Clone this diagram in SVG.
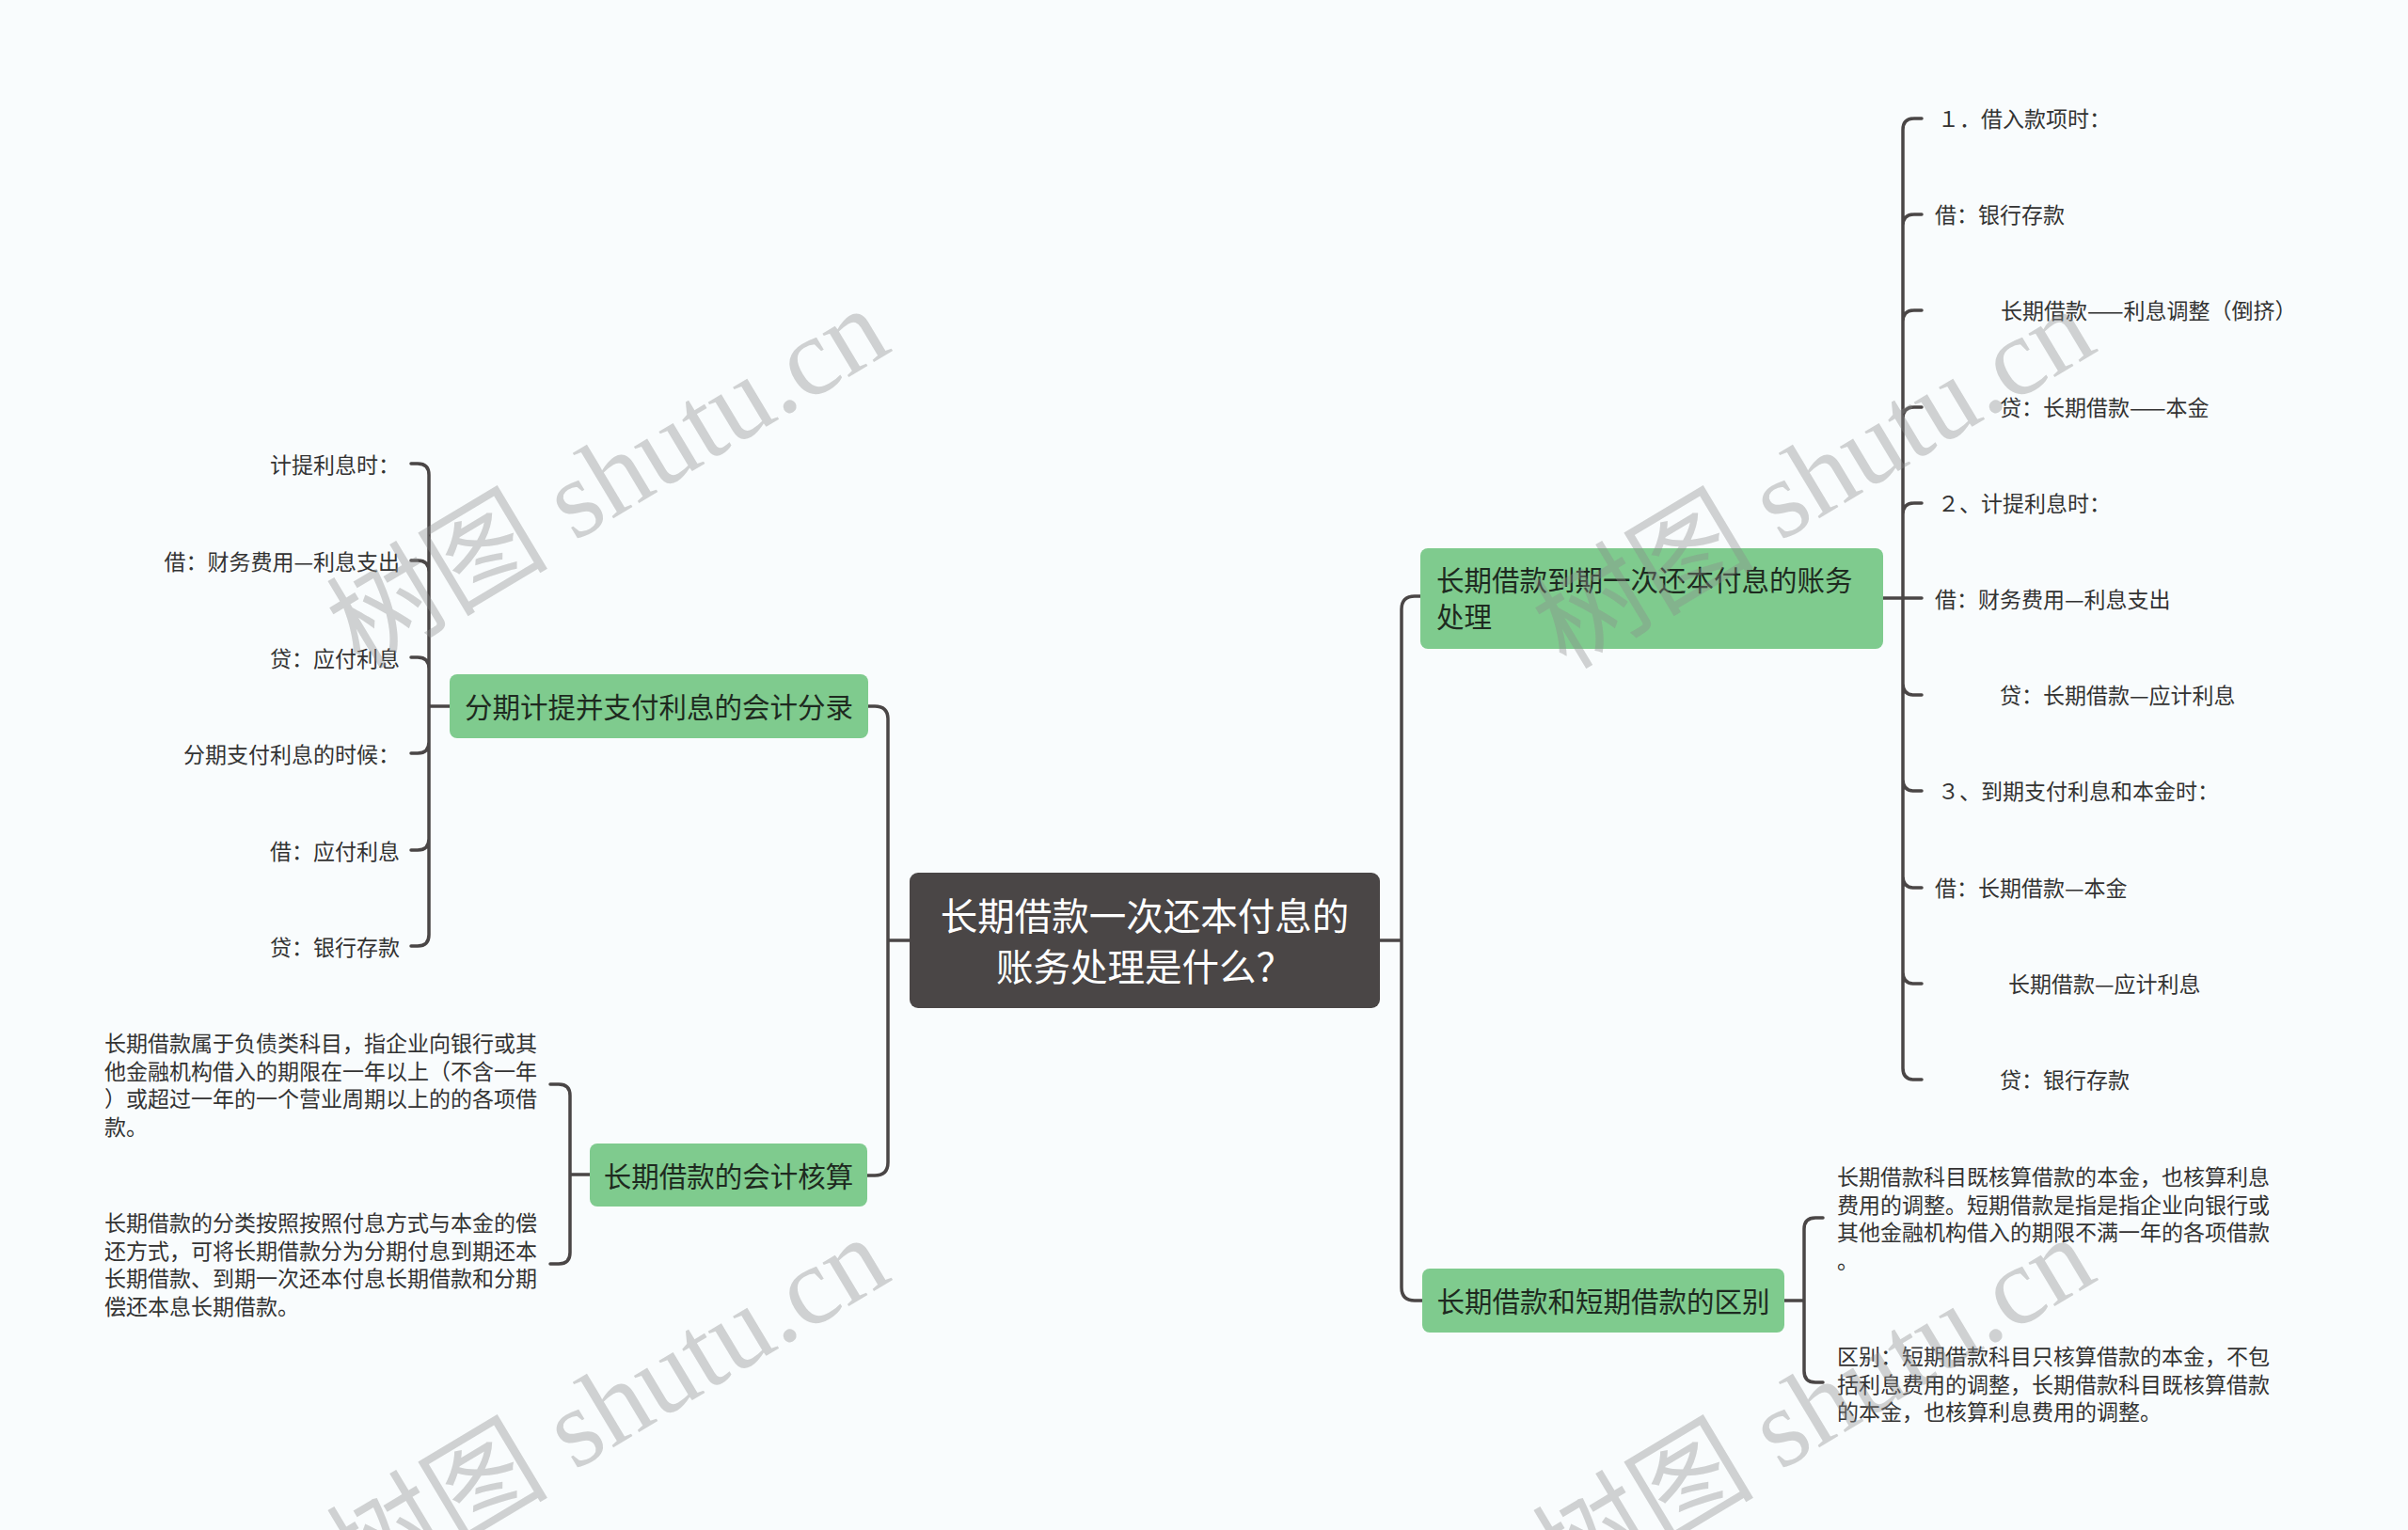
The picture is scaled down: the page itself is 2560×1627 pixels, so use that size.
<svg xmlns="http://www.w3.org/2000/svg" width="2560" height="1627" viewBox="0 0 2560 1627">
<style>
text{font-family:"Noto Sans CJK SC","Noto Sans",sans-serif;dominant-baseline:central}
.con{fill:none;stroke:#4a4646;stroke-width:3.5;stroke-linecap:round}
.root{fill:#4a4646}
.rootT{fill:#ffffff;font-size:39.5px;text-anchor:middle}
.br{fill:#7fcb8e}
.brT{fill:#1e2a20;font-size:29.5px}
.lf{fill:#333333;font-size:23px}
.pg{fill:#333333;font-size:23px}
.wm{font-family:"Liberation Serif","Noto Sans CJK SC",serif;font-size:118px;fill:#8c8c8c;fill-opacity:0.38;dominant-baseline:auto}
</style>
<rect width="2560" height="1627" fill="#f9fcfd"/>
<g id="connectors">
<path class="con" d="M967,1000 H944 M923,751 H930 Q944,751 944,765 V1236 Q944,1250 930,1250 H922"/>
<path class="con" d="M478,751 H456 M456,751 V505 Q456,493 444,493 H437 M456,751 V608 Q456,596 444,596 H437 M456,751 V711 Q456,699 444,699 H437 M456,751 V789 Q456,801 444,801 H437 M456,751 V892 Q456,904 444,904 H437 M456,751 V994 Q456,1006 444,1006 H437"/>
<path class="con" d="M627,1249 H606 M606,1249 V1165 Q606,1153 594,1153 H585 M606,1249 V1332 Q606,1344 594,1344 H585"/>
<path class="con" d="M1467,1000 H1490 M1510,634 H1504 Q1490,634 1490,648 V1369 Q1490,1383 1504,1383 H1512"/>
<path class="con" d="M2002,636 H2043 M2023,636 V138 Q2023,126 2035,126 H2043 M2023,636 V240 Q2023,228 2035,228 H2043 M2023,636 V342 Q2023,330 2035,330 H2043 M2023,636 V445 Q2023,433 2035,433 H2043 M2023,636 V547 Q2023,535 2035,535 H2043 M2023,636 V727 Q2023,739 2035,739 H2043 M2023,636 V829 Q2023,841 2035,841 H2043 M2023,636 V932 Q2023,944 2035,944 H2043 M2023,636 V1034 Q2023,1046 2035,1046 H2043 M2023,636 V1136 Q2023,1148 2035,1148 H2043"/>
<path class="con" d="M1897,1383 H1918 M1918,1383 V1307 Q1918,1295 1930,1295 H1938 M1918,1383 V1458 Q1918,1470 1930,1470 H1938"/>
</g>
<g id="root">
<rect class="root" x="967" y="928" width="500" height="144" rx="9"/>
<text class="rootT" x="1217" y="971">长期借款一次还本付息的</text>
<text class="rootT" x="1217" y="1025">账务处理是什么？</text>
</g>
<g id="branch-l1">
<rect class="br" x="478" y="717" width="445" height="68" rx="8"/>
<text class="brT" x="700.5" y="750" text-anchor="middle">分期计提并支付利息的会计分录</text>
</g>
<g id="branch-l2">
<rect class="br" x="627" y="1216" width="295" height="67" rx="8"/>
<text class="brT" x="774.5" y="1249" text-anchor="middle">长期借款的会计核算</text>
</g>
<g id="branch-r1">
<rect class="br" x="1510" y="583" width="492" height="107" rx="8"/>
<text class="brT" x="1527" y="615">长期借款到期一次还本付息的账务</text>
<text class="brT" x="1527" y="654">处理</text>
</g>
<g id="branch-r2">
<rect class="br" x="1512" y="1349" width="385" height="68" rx="8"/>
<text class="brT" x="1704.5" y="1382" text-anchor="middle">长期借款和短期借款的区别</text>
</g>
<g id="leaves-l1">
<g id="l1-1"><text class="lf" x="425" y="493" text-anchor="end">计提利息时：</text></g>
<g id="l1-2"><text class="lf" x="425" y="596" text-anchor="end">借：财务费用—利息支出</text></g>
<g id="l1-3"><text class="lf" x="425" y="699" text-anchor="end">贷：应付利息</text></g>
<g id="l1-4"><text class="lf" x="425" y="801" text-anchor="end">分期支付利息的时候：</text></g>
<g id="l1-5"><text class="lf" x="425" y="904" text-anchor="end">借：应付利息</text></g>
<g id="l1-6"><text class="lf" x="425" y="1006" text-anchor="end">贷：银行存款</text></g>
</g>
<g id="leaves-l2">
<g id="l2-1">
<text class="pg" x="111" y="1108">长期借款属于负债类科目，指企业向银行或其</text>
<text class="pg" x="111" y="1137.5">他金融机构借入的期限在一年以上（不含一年</text>
<text class="pg" x="111" y="1167">）或超过一年的一个营业周期以上的的各项借</text>
<text class="pg" x="111" y="1196.5">款。</text>
</g>
<g id="l2-2">
<text class="pg" x="111" y="1299">长期借款的分类按照按照付息方式与本金的偿</text>
<text class="pg" x="111" y="1328.5">还方式，可将长期借款分为分期付息到期还本</text>
<text class="pg" x="111" y="1358">长期借款、到期一次还本付息长期借款和分期</text>
<text class="pg" x="111" y="1387.5">偿还本息长期借款。</text>
</g>
</g>
<g id="leaves-r1">
<g id="r1-1"><text class="lf" x="2060" y="125">１．借入款项时：</text></g>
<g id="r1-2"><text class="lf" x="2057" y="227">借：银行存款</text></g>
<g id="r1-3"><text class="lf" x="2127" y="329">长期借款——利息调整（倒挤）</text></g>
<g id="r1-4"><text class="lf" x="2126" y="432">贷：长期借款——本金</text></g>
<g id="r1-5"><text class="lf" x="2060" y="534">２、计提利息时：</text></g>
<g id="r1-6"><text class="lf" x="2057" y="636">借：财务费用—利息支出</text></g>
<g id="r1-7"><text class="lf" x="2126" y="738">贷：长期借款—应计利息</text></g>
<g id="r1-8"><text class="lf" x="2060" y="840">３、到期支付利息和本金时：</text></g>
<g id="r1-9"><text class="lf" x="2057" y="943">借：长期借款—本金</text></g>
<g id="r1-10"><text class="lf" x="2135" y="1045">长期借款—应计利息</text></g>
<g id="r1-11"><text class="lf" x="2126" y="1147">贷：银行存款</text></g>
</g>
<g id="leaves-r2">
<g id="r2-1">
<text class="pg" x="1953" y="1250">长期借款科目既核算借款的本金，也核算利息</text>
<text class="pg" x="1953" y="1279.5">费用的调整。短期借款是指是指企业向银行或</text>
<text class="pg" x="1953" y="1309">其他金融机构借入的期限不满一年的各项借款</text>
<text class="pg" x="1953" y="1338.5">。</text>
</g>
<g id="r2-2">
<text class="pg" x="1953" y="1441">区别：短期借款科目只核算借款的本金，不包</text>
<text class="pg" x="1953" y="1470.5">括利息费用的调整，长期借款科目既核算借款</text>
<text class="pg" x="1953" y="1500">的本金，也核算利息费用的调整。</text>
</g>
</g>
<g id="watermark">
<text class="wm" transform="translate(383,713) rotate(-31)">树图 shutu.cn</text>
<text class="wm" transform="translate(1665,713) rotate(-31)">树图 shutu.cn</text>
<text class="wm" transform="translate(383,1701) rotate(-31)">树图 shutu.cn</text>
<text class="wm" transform="translate(1665,1701) rotate(-31)">树图 shutu.cn</text>
</g>
</svg>
